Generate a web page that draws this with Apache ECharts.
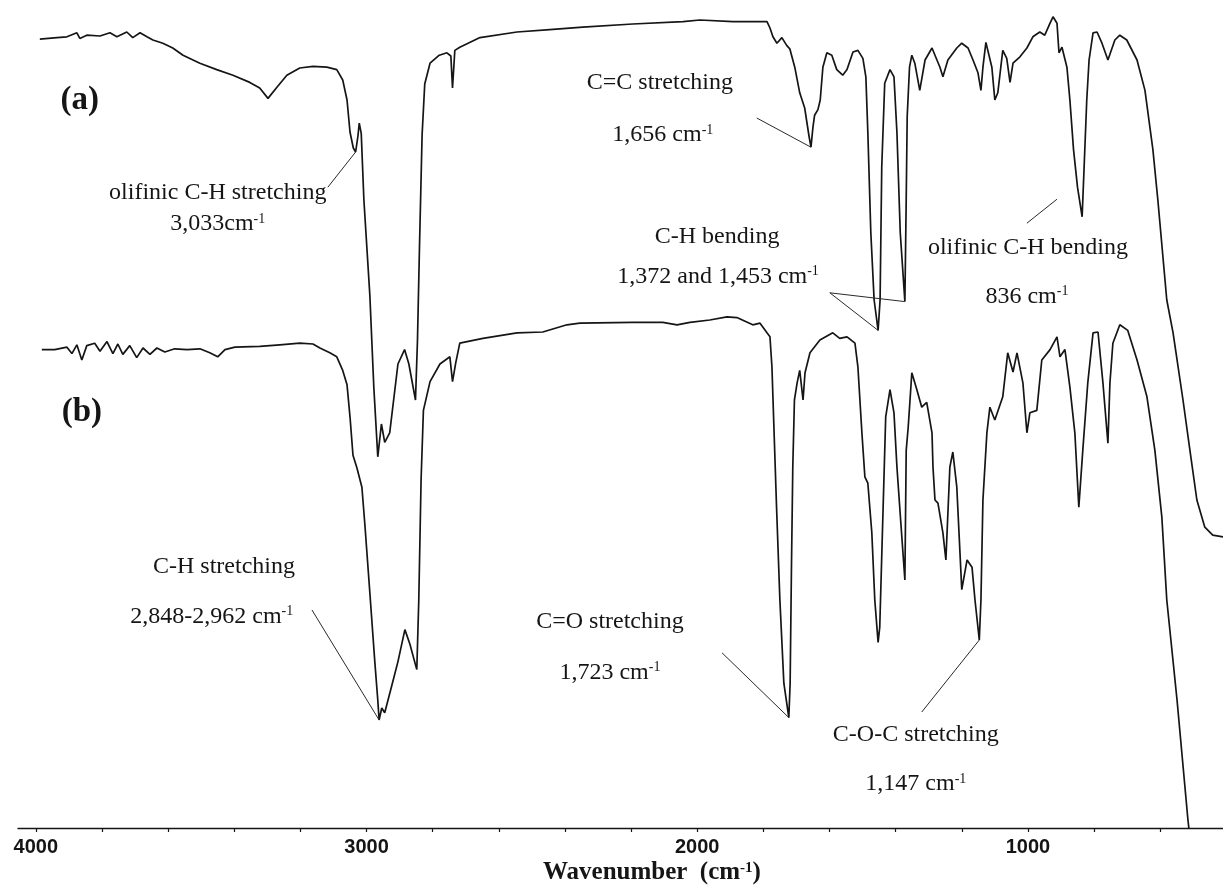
<!DOCTYPE html>
<html>
<head>
<meta charset="utf-8">
<script src="https://cdn.jsdelivr.net/npm/echarts@6/dist/echarts.min.js"></script>
<style>
  html, body { margin: 0; padding: 0; background: #ffffff; }
  #chart { width: 1223px; height: 894px; }
</style>
</head>
<body>
<div id="chart"></div>
<script>
// Wavenumber tick values (cm-1)
const majorTicks = [1000, 2000, 3000, 4000];
const minorTicks = [600, 800, 1000, 1200, 1400, 1600, 1800, 2000, 2200, 2400, 2600, 2800, 3000, 3200, 3400, 3600, 3800, 4000];

// FTIR spectrum (a): [wavenumber cm-1, transmittance a.u. (offset)]
const spectrumA = [
  [3988, 98.6], [3936, 98.8], [3906, 98.9], [3876, 99.4], [3867, 98.7], [3846, 99.1],
  [3806, 99.0], [3776, 99.4], [3755, 98.9], [3725, 99.5], [3707, 98.8], [3685, 99.4],
  [3664, 98.9], [3646, 98.5], [3616, 98.1], [3586, 97.5], [3555, 96.6], [3504, 95.6],
  [3453, 94.8], [3404, 94.1], [3353, 93.2], [3323, 92.5], [3298, 91.2], [3271, 92.6],
  [3241, 94.1], [3202, 95.0], [3162, 95.2], [3120, 95.1], [3090, 94.8], [3072, 93.5],
  [3059, 91.0], [3050, 87.0], [3040, 85.0], [3033, 84.5], [3026, 86.5], [3022, 88.1],
  [3016, 86.8], [3008, 78.5], [2990, 66.6], [2978, 55.1], [2966, 46.4], [2955, 50.5],
  [2945, 48.2], [2930, 49.4], [2905, 58.0], [2885, 59.8], [2872, 58.0], [2852, 53.5],
  [2846, 60.9], [2840, 72.4], [2832, 86.6], [2824, 93.0], [2808, 95.6], [2780, 96.6],
  [2757, 96.9], [2745, 96.5], [2740, 92.5], [2733, 97.2], [2718, 97.6], [2657, 98.8],
  [2545, 99.5], [2446, 99.8], [2346, 100.1], [2195, 100.5], [2043, 100.8], [1992, 101.0],
  [1892, 100.8], [1789, 100.8], [1780, 100.0], [1771, 98.9], [1759, 98.1], [1744, 98.8],
  [1729, 97.8], [1720, 97.4], [1705, 95.1], [1690, 91.9], [1675, 90.0], [1662, 86.5],
  [1656, 85.1], [1650, 87.6], [1645, 89.1], [1640, 88.9], [1635, 89.8], [1628, 91.0],
  [1620, 95.1], [1608, 96.9], [1593, 96.6], [1578, 94.8], [1560, 94.1], [1547, 94.8],
  [1529, 97.0], [1514, 97.2], [1499, 96.2], [1490, 93.9], [1484, 86.9], [1475, 74.4],
  [1465, 66.0], [1453, 62.2], [1447, 66.0], [1442, 82.6], [1433, 93.1], [1417, 94.8],
  [1405, 93.9], [1396, 86.9], [1386, 74.4], [1372, 65.8], [1368, 78.5], [1365, 88.9],
  [1358, 95.1], [1351, 96.6], [1342, 95.6], [1327, 92.2], [1311, 96.0], [1290, 97.5],
  [1281, 96.6], [1266, 95.1], [1257, 93.9], [1242, 96.0], [1215, 97.5], [1200, 98.1],
  [1181, 97.5], [1166, 96.0], [1151, 94.4], [1142, 92.2], [1136, 95.1], [1127, 98.2],
  [1121, 98.1], [1109, 95.1], [1100, 91.0], [1091, 91.9], [1076, 97.2], [1064, 96.2],
  [1054, 93.2], [1045, 95.6], [1024, 96.4], [1003, 97.5], [985, 98.9], [964, 99.5],
  [949, 99.1], [933, 100.6], [924, 101.4], [912, 100.6], [906, 96.9], [897, 97.6],
  [882, 95.1], [873, 91.0], [862, 84.8], [850, 80.1], [836, 76.4], [830, 82.6],
  [822, 91.0], [815, 96.0], [803, 99.4], [791, 99.5], [776, 98.1], [758, 96.0],
  [737, 98.5], [722, 99.1], [701, 98.5], [670, 96.0], [646, 92.2], [622, 84.8],
  [607, 78.5], [580, 66.0], [561, 61.9], [531, 53.5], [510, 47.2], [489, 41.0],
  [465, 37.6], [441, 36.6], [410, 36.4]
];

// FTIR spectrum (b): [wavenumber cm-1, transmittance a.u. (offset)]
const spectrumB = [
  [3982, 59.8], [3943, 59.8], [3906, 60.1], [3891, 59.3], [3876, 60.4], [3861, 58.5],
  [3846, 60.3], [3822, 60.6], [3806, 59.6], [3785, 60.8], [3767, 59.3], [3752, 60.5],
  [3737, 59.2], [3716, 60.3], [3695, 58.8], [3676, 60.0], [3655, 59.2], [3634, 60.0],
  [3610, 59.5], [3580, 59.9], [3543, 59.8], [3504, 59.9], [3474, 59.4], [3450, 58.9],
  [3428, 59.8], [3398, 60.1], [3323, 60.2], [3262, 60.4], [3202, 60.6], [3162, 60.5],
  [3141, 60.0], [3111, 59.4], [3090, 58.9], [3072, 57.2], [3059, 55.4], [3050, 51.4],
  [3041, 46.6], [3029, 45.0], [3014, 42.6], [3005, 37.9], [2990, 29.4], [2975, 20.8],
  [2966, 16.0], [2962, 13.5], [2954, 15.0], [2945, 14.4], [2923, 17.9], [2905, 20.8],
  [2884, 24.8], [2869, 23.0], [2848, 19.8], [2842, 28.5], [2835, 43.6], [2828, 52.2],
  [2808, 55.8], [2778, 58.0], [2748, 58.9], [2740, 55.8], [2730, 58.2], [2718, 60.6],
  [2648, 61.2], [2545, 61.9], [2467, 62.0], [2394, 62.9], [2355, 63.1], [2195, 63.2],
  [2104, 63.2], [2061, 62.9], [2022, 63.2], [1962, 63.5], [1910, 63.9], [1880, 63.8],
  [1832, 62.9], [1810, 63.1], [1789, 61.9], [1780, 61.4], [1774, 57.6], [1768, 50.0],
  [1760, 40.0], [1750, 28.5], [1738, 18.1], [1723, 13.8], [1719, 18.1], [1715, 32.6],
  [1711, 45.1], [1706, 53.5], [1698, 55.6], [1690, 57.2], [1680, 53.5], [1674, 56.9],
  [1659, 59.4], [1629, 61.0], [1590, 61.9], [1569, 61.2], [1547, 61.4], [1523, 60.6],
  [1514, 57.6], [1502, 49.4], [1493, 43.9], [1484, 43.1], [1472, 36.9], [1463, 28.5],
  [1453, 23.2], [1448, 25.1], [1440, 36.9], [1430, 51.4], [1417, 54.8], [1405, 51.9],
  [1396, 45.1], [1384, 38.0], [1372, 31.0], [1368, 47.2], [1362, 50.1], [1351, 56.9],
  [1336, 54.8], [1321, 52.6], [1306, 53.2], [1290, 49.4], [1287, 45.1], [1281, 41.0],
  [1272, 40.6], [1257, 36.9], [1248, 33.5], [1236, 45.1], [1227, 47.0], [1215, 42.6],
  [1200, 29.8], [1184, 33.5], [1169, 32.6], [1160, 28.5], [1147, 23.5], [1142, 28.5],
  [1136, 41.0], [1124, 49.4], [1115, 52.6], [1100, 51.0], [1076, 53.9], [1061, 59.4],
  [1045, 57.0], [1033, 59.4], [1015, 55.6], [1003, 49.4], [994, 51.9], [973, 52.2],
  [958, 58.5], [933, 59.8], [912, 61.4], [903, 58.9], [888, 59.8], [873, 55.1],
  [858, 49.4], [846, 40.1], [834, 47.2], [819, 55.6], [803, 61.9], [788, 62.0],
  [773, 55.6], [758, 48.1], [752, 55.6], [743, 60.6], [722, 62.9], [698, 62.2],
  [670, 58.5], [640, 53.9], [616, 47.2], [595, 38.9], [580, 28.5], [549, 16.0],
  [516, 1.0], [505, -3.0]
];

const SERIF = '"Liberation Serif", "Times New Roman", serif';
const SANS = '"Liberation Sans", Arial, sans-serif';
const INK = '#151515';

// Band assignments, anchored in data space [wavenumber, T]
const annotations = [
  { text: '(a)', at: [3867, 91.0], size: 33, bold: true },
  { text: '(b)', at: [3861, 52.0], size: 33, bold: true },
  { text: 'olifinic C-H stretching', at: [3450, 79.4] },
  { text: '3,033cm{sup|-1}', at: [3450, 75.5] },
  { text: 'C=C stretching', at: [2113, 93.1] },
  { text: '1,656 cm{sup|-1}', at: [2104, 86.6] },
  { text: 'C-H bending', at: [1940, 73.9] },
  { text: '1,372 and 1,453 cm{sup|-1}', at: [1937, 68.9] },
  { text: 'olifinic C-H bending', at: [1000, 72.5] },
  { text: '836 cm{sup|-1}', at: [1003, 66.4] },
  { text: 'C-H stretching', at: [3431, 32.6] },
  { text: '2,848-2,962 cm{sup|-1}', at: [3468, 26.4] },
  { text: 'C=O stretching', at: [2264, 25.75] },
  { text: '1,723 cm{sup|-1}', at: [2264, 19.4] },
  { text: 'C-O-C stretching', at: [1339, 11.6] },
  { text: '1,147 cm{sup|-1}', at: [1339, 5.5] }
];

// Leader lines: from a point near the label to the band on the given spectrum
const leaders = [
  { from: [3117, 80.1], series: 'A', band: 3033 },
  { from: [1820, 88.75], series: 'A', band: 1656 },
  { from: [1599, 66.9], series: 'A', band: 1453 },
  { from: [1599, 66.9], series: 'A', band: 1372 },
  { from: [1003, 75.6], to: [912, 78.6] },
  { from: [3165, 27.25], series: 'B', band: 2962 },
  { from: [1925, 21.9], series: 'B', band: 1723 },
  { from: [1321, 14.5], series: 'B', band: 1147 }
];

function bandPoint(series, wn) {
  const arr = series === 'A' ? spectrumA : spectrumB;
  return arr.find(p => p[0] === wn);
}

const leaderData = leaders.map(l => {
  const end = l.to ? l.to : bandPoint(l.series, l.band);
  return [{ coord: l.from }, { coord: end }];
});

const chart = echarts.init(document.getElementById('chart'), null, { renderer: 'canvas' });

chart.setOption({
  animation: false,
  backgroundColor: '#ffffff',
  grid: { left: 18, right: 0, top: 8, bottom: 66, containLabel: false, outerBoundsMode: 'none' },
  xAxis: {
    type: 'value',
    inverse: true,
    min: 410,
    max: 4054,
    axisLine: { show: true, onZero: false, lineStyle: { color: INK, width: 1.3 } },
    axisTick: { show: true, customValues: minorTicks, length: 4, lineStyle: { color: INK, width: 1.2 } },
    axisLabel: {
      show: true,
      customValues: majorTicks,
      formatter: v => String(v),
      margin: 9,
      color: INK,
      fontFamily: SANS,
      fontWeight: 'bold',
      fontSize: 20
    },
    splitLine: { show: false }
  },
  yAxis: {
    type: 'value',
    min: 0,
    max: 102.5,
    show: false,
    splitLine: { show: false }
  },
  series: [
    {
      name: '(a)',
      type: 'line',
      data: spectrumA,
      showSymbol: false,
      symbol: 'none',
      smooth: false,
      lineStyle: { color: INK, width: 1.7 },
      markLine: {
        silent: true,
        symbol: ['none', 'none'],
        label: { show: false },
        lineStyle: { color: '#2a2a2a', width: 1, type: 'solid' },
        emphasis: { disabled: true },
        data: leaderData
      }
    },
    {
      name: '(b)',
      type: 'line',
      data: spectrumB,
      showSymbol: false,
      symbol: 'none',
      smooth: false,
      lineStyle: { color: INK, width: 1.7 }
    }
  ]
});

function toPx(p) {
  return chart.convertToPixel({ xAxisIndex: 0, yAxisIndex: 0 }, p);
}

const graphics = annotations.map(a => {
  const [x, y] = toPx(a.at);
  const size = a.size || 24;
  return {
    type: 'text',
    x: x,
    y: y,
    silent: true,
    style: {
      text: a.text,
      fill: INK,
      fontFamily: SERIF,
      fontSize: size,
      fontWeight: a.bold ? 'bold' : 'normal',
      align: 'center',
      verticalAlign: 'middle',
      rich: {
        sup: { fontSize: 14, fontFamily: SERIF, fill: INK, verticalAlign: 'top' }
      }
    }
  };
});

// Axis title
const titlePos = toPx([2137, -5.6]);
graphics.push({
  type: 'text',
  x: titlePos[0],
  y: titlePos[1],
  silent: true,
  style: {
    text: 'Wavenumber  (cm{sup|-1})',
    fill: INK,
    fontFamily: SERIF,
    fontSize: 25,
    fontWeight: 'bold',
    align: 'center',
    verticalAlign: 'middle',
    rich: {
      sup: { fontSize: 15, fontFamily: SERIF, fontWeight: 'bold', fill: INK, verticalAlign: 'top' }
    }
  }
});

chart.setOption({ graphic: graphics });
</script>
</body>
</html>
